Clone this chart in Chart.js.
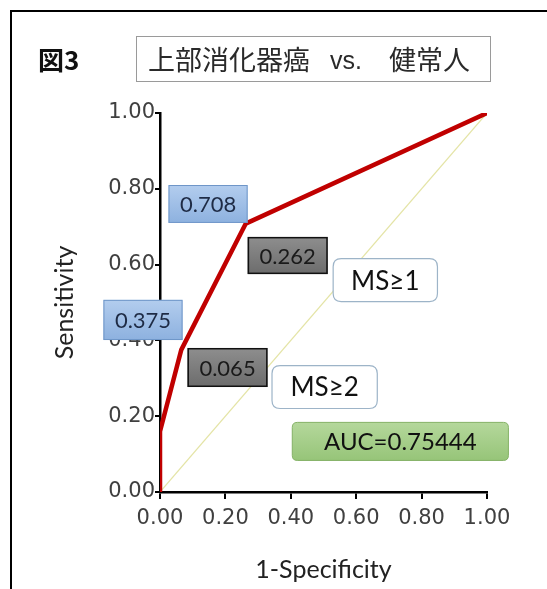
<!DOCTYPE html>
<html><head><meta charset="utf-8">
<script src="https://cdn.jsdelivr.net/npm/chart.js@4"></script>
<style>html,body{margin:0;padding:0;background:#fff}#wrap{width:547px;height:589px;position:relative}</style>
</head><body><div id="wrap"><canvas id="c" width="547" height="589"></canvas></div>
<script>
// ---- data ----
const rocX = [0, 0, 0.065, 0.262, 1];
const rocY = [0, 0.16, 0.375, 0.708, 1];
const refX = [0, 1];
const refY = [0, 1];
const tickValues = [0, 0.2, 0.4, 0.6, 0.8, 1.0];
const figLabel = '図3';
const titleParts = ['上部消化器癌', 'vs.', '健常人'];
const xTitle = '1-Specificity';
const yTitle = 'Sensitivity';
const aucText = 'AUC=0.75444';
const pointSensText = ['0.375', '0.708'];
const pointFprText = ['0.065', '0.262'];
const cutoffText = ['MS≥2', 'MS≥1'];

// annotation boxes in data units: [x0, x1, yTop, yBottom]
const boxes = [
  {t: pointSensText[1], r: [0.026, 0.268, 0.810, 0.710], k: 'blue'},
  {t: pointFprText[1], r: [0.268, 0.513, 0.673, 0.575], k: 'gray'},
  {t: cutoffText[1], r: [0.528, 0.850, 0.617, 0.501], k: 'white'},
  {t: pointSensText[0], r: [-0.173, 0.069, 0.507, 0.401], k: 'blue'},
  {t: pointFprText[0], r: [0.084, 0.329, 0.380, 0.277], k: 'gray'},
  {t: cutoffText[0], r: [0.341, 0.666, 0.335, 0.219], k: 'white'},
  {t: aucText, r: [0.403, 1.067, 0.185, 0.082], k: 'green'}
];

function rr(ctx, x, y, w, h, r) {
  ctx.beginPath();
  ctx.moveTo(x + r, y);
  ctx.lineTo(x + w - r, y); ctx.quadraticCurveTo(x + w, y, x + w, y + r);
  ctx.lineTo(x + w, y + h - r); ctx.quadraticCurveTo(x + w, y + h, x + w - r, y + h);
  ctx.lineTo(x + r, y + h); ctx.quadraticCurveTo(x, y + h, x, y + h - r);
  ctx.lineTo(x, y + r); ctx.quadraticCurveTo(x, y, x + r, y);
  ctx.closePath();
}

const deco = {
  id: 'deco',
  afterDraw(chart) {
    const ctx = chart.ctx, xs = chart.scales.x, ys = chart.scales.y;
    ctx.save();
    // frame
    ctx.strokeStyle = '#000'; ctx.lineWidth = 2;
    ctx.beginPath(); ctx.moveTo(11, 589); ctx.lineTo(11, 11); ctx.lineTo(547, 11); ctx.stroke();
    // figure label
    ctx.fillStyle = '#111';
    ctx.font = 'bold 26px "Noto Sans CJK JP"';
    ctx.textBaseline = 'middle'; ctx.textAlign = 'left';
    ctx.fillText(figLabel, 38, 60);
    // title box
    ctx.strokeStyle = '#9a9a9a'; ctx.lineWidth = 1;
    ctx.strokeRect(136.5, 36.5, 354, 45);
    ctx.fillStyle = '#2a2a2a';
    ctx.font = '27px "Noto Sans CJK JP"';
    ctx.fillText(titleParts[0], 148, 60);
    ctx.font = '25px "Liberation Sans Narrow", "Liberation Sans"';
    ctx.fillText(titleParts[1], 330, 62);
    ctx.font = '27px "Noto Sans CJK JP"';
    ctx.fillText(titleParts[2], 389, 60);
    // annotation boxes
    boxes.forEach(b => {
      const x0 = xs.getPixelForValue(b.r[0]), x1 = xs.getPixelForValue(b.r[1]);
      const y0 = ys.getPixelForValue(b.r[2]), y1 = ys.getPixelForValue(b.r[3]);
      const w = x1 - x0, h = y1 - y0;
      let g = ctx.createLinearGradient(0, y0, 0, y1);
      let txt, font;
      if (b.k === 'blue') {
        g.addColorStop(0, '#b3cdee'); g.addColorStop(1, '#8db1df');
        txt = '#1e2b45'; font = '22px Lato';
        ctx.fillStyle = g; ctx.fillRect(x0, y0, w, h);
        ctx.strokeStyle = '#6f96c8'; ctx.lineWidth = 1; ctx.strokeRect(x0 + 0.5, y0 + 0.5, w - 1, h - 1);
      } else if (b.k === 'gray') {
        g.addColorStop(0, '#8e8e8e'); g.addColorStop(1, '#6c6c6c');
        txt = '#1a1a1a'; font = '22px Lato';
        ctx.fillStyle = g; ctx.fillRect(x0, y0, w, h);
        ctx.strokeStyle = '#111'; ctx.lineWidth = 1.5; ctx.strokeRect(x0 + 0.75, y0 + 0.75, w - 1.5, h - 1.5);
      } else if (b.k === 'white') {
        txt = '#111'; font = '26px Lato';
        rr(ctx, x0 + 0.5, y0 + 0.5, w - 1, h - 1, 8);
        ctx.fillStyle = '#fff'; ctx.fill();
        ctx.strokeStyle = '#9db4c8'; ctx.lineWidth = 1.2; ctx.stroke();
      } else {
        g.addColorStop(0, '#b5d89c'); g.addColorStop(1, '#96c478');
        txt = '#111'; font = '24px Lato';
        rr(ctx, x0 + 0.5, y0 + 0.5, w - 1, h - 1, 5);
        ctx.fillStyle = g; ctx.fill();
        ctx.strokeStyle = '#84b266'; ctx.lineWidth = 1; ctx.stroke();
      }
      ctx.fillStyle = txt; ctx.font = font;
      ctx.textAlign = 'center'; ctx.textBaseline = 'middle';
      ctx.fillText(b.t, x0 + w / 2, y0 + h / 2 + 1);
    });
    ctx.restore();
  }
};

const tickFont = {family: '"DejaVu Sans"', size: 21};
new Chart(document.getElementById('c'), {
  type: 'scatter',
  data: {
    datasets: [
      {data: refX.map((v, i) => ({x: v, y: refY[i]})), showLine: true, borderColor: '#e4e4a6', borderWidth: 1.2, pointRadius: 0, order: 2},
      {data: rocX.map((v, i) => ({x: v, y: rocY[i]})), showLine: true, borderColor: '#c00000', borderWidth: 4.5, pointRadius: 0, borderJoinStyle: 'round', order: 1}
    ]
  },
  options: {
    responsive: false, animation: false,
    layout: {padding: {left: 0, right: 60, top: 113, bottom: 0}},
    plugins: {legend: {display: false}, tooltip: {enabled: false}},
    scales: {
      x: {
        type: 'linear', min: 0, max: 1,
        afterBuildTicks: s => { s.ticks = tickValues.map(v => ({value: v})); },
        afterFit: s => { s.height = 97; },
        ticks: {callback: v => v.toFixed(2), color: '#404040', font: tickFont, padding: 7, maxRotation: 0},
        grid: {drawOnChartArea: false, drawTicks: true, tickLength: 7, color: '#000', lineWidth: 2},
        border: {color: '#000', width: 2.5},
        title: {display: true, text: xTitle, color: '#222', font: {family: 'Lato', size: 25}, padding: {top: 0, bottom: 4}}
      },
      y: {
        type: 'linear', min: 0, max: 1,
        afterBuildTicks: s => { s.ticks = tickValues.map(v => ({value: v})); },
        afterFit: s => { s.width = 160; },
        ticks: {callback: v => v.toFixed(2), color: '#404040', font: tickFont, padding: 0},
        grid: {drawOnChartArea: false, drawTicks: true, tickLength: 5, color: '#000', lineWidth: 2},
        border: {color: '#000', width: 2.5},
        title: {display: true, text: yTitle, color: '#222', font: {family: 'Lato', size: 25}, padding: {top: 50, bottom: 0}}
      }
    }
  },
  plugins: [deco]
});
</script></body></html>
